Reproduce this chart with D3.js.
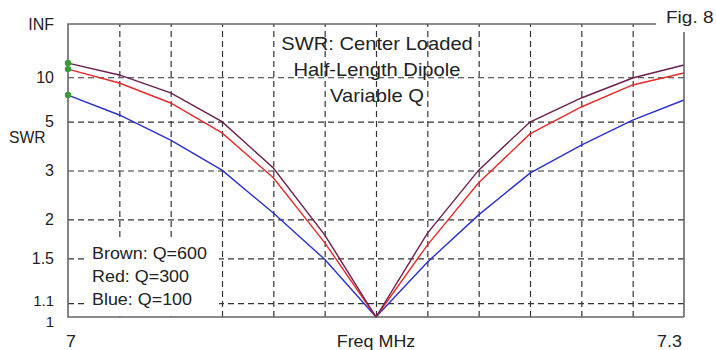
<!DOCTYPE html>
<html>
<head>
<meta charset="utf-8">
<script src="https://cdn.jsdelivr.net/npm/d3@7"></script>
<style>
  html, body { margin: 0; padding: 0; background: #fff; }
  svg { display: block; }
  text { font-family: "Liberation Sans", Arial, sans-serif; fill: #222; }
</style>
</head>
<body>
<svg id="chart" width="716" height="350"></svg>
<script>
// ---- data ----
const freqs     = [7.000, 7.025, 7.050, 7.075, 7.100, 7.125, 7.150, 7.175, 7.200, 7.225, 7.250, 7.275, 7.300];
const swrBrown  = [14.0, 10.5, 7.5, 5.0, 3.07, 1.78, 1.0, 1.80, 3.01, 4.98, 6.92, 9.85, 13.3];
const swrRed    = [12.0, 8.93, 6.42, 4.38, 2.81, 1.68, 1.0, 1.65, 2.69, 4.33, 6.06, 8.61, 10.96];
const swrBlue   = [7.25, 5.44, 4.05, 3.01, 2.10, 1.49, 1.0, 1.46, 2.07, 2.93, 3.84, 5.10, 6.71];
const seriesNames  = ["Brown: Q=600", "Red: Q=300", "Blue: Q=100"];
const yTickSWR     = [1, 1.1, 1.5, 2, 3, 5, 10, Infinity];
const yTickLabels  = ["1", "1.1", "1.5", "2", "3", "5", "10", "INF"];
const xTickLabels  = ["7", "7.3"];
const xTitle       = "Freq MHz";
const yTitle       = "SWR";
const titleLines   = ["SWR: Center Loaded", "Half-Length Dipole", "Variable Q"];
const figLabel     = "Fig. 8";

// ---- layout ----
const L = 68, R = 684, T = 24, B = 317;
const svg = d3.select("#chart");
const x = d3.scaleLinear().domain([7.0, 7.3]).range([L, R]);
const rho = s => (s === Infinity ? 1 : (s - 1) / (s + 1));
const yR = d3.scaleLinear().domain([0, 1]).range([B, T]);
const y = s => yR(rho(s));
const SX = 1.12;

// grid
const gridColor = "#333";
const vGrid = d3.range(1, 12).map(i => 7 + i * 0.025);
svg.append("g").attr("transform", `translate(0,${B})`)
  .call(d3.axisBottom(x).tickValues(vGrid).tickSize(-(B - T)).tickFormat(""))
  .call(g => g.select(".domain").remove())
  .call(g => g.selectAll("line").attr("stroke", gridColor).attr("stroke-width", 1.2).attr("stroke-dasharray", "6,4"));

const hGridVals = yTickSWR.filter(s => s > 1 && s !== Infinity).map(rho);
svg.append("g").attr("transform", `translate(${L},0)`)
  .call(d3.axisLeft(yR).tickValues(hGridVals).tickSize(-(R - L)).tickFormat(""))
  .call(g => g.select(".domain").remove())
  .call(g => g.selectAll("line").attr("stroke", gridColor).attr("stroke-width", 1.2).attr("stroke-dasharray", "6,4"));

// legend backdrop (covers grid)
svg.append("rect").attr("x", 85).attr("y", 238).attr("width", 134).attr("height", 78).attr("fill", "#fff");

// y axis labels
const yAxis = svg.append("g").attr("transform", `translate(${L},0)`)
  .call(d3.axisLeft(yR).tickValues(yTickSWR.map(rho)).tickSize(0).tickPadding(14)
    .tickFormat((d, i) => yTickLabels[i]));
yAxis.select(".domain").remove();
yAxis.selectAll("text").attr("font-size", 16).attr("fill", "#222")
  .style("font-family", "'Liberation Sans', Arial, sans-serif");
// the two bottom labels sit very close: nudge them apart slightly, smaller size
yAxis.selectAll(".tick text").filter((d, i) => i === 0).attr("font-size", 15).attr("dy", "0.62em");
yAxis.selectAll(".tick text").filter((d, i) => i === 1).attr("font-size", 15).attr("dy", "0.15em");

// helper for stretched text
function label(str, px, py, size, anchor, sx) {
  svg.append("text")
    .attr("transform", `translate(${px},${py}) scale(${sx},1)`)
    .attr("text-anchor", anchor).attr("font-size", size).text(str);
}

// axis titles & x labels
label(yTitle, 9, 143, 16, "start", 0.98);
label(xTickLabels[0], x(7.0) - 2, 347, 16, "start", SX);
label(xTickLabels[1], x(7.3) - 2, 347, 16, "end", SX);
label(xTitle, x(7.15), 347, 16, "middle", SX);

// title
titleLines.forEach((t, i) => label(t, 377, 50 + i * 25.8, 18, "middle", SX));

// legend
seriesNames.forEach((t, i) => label(t, 92, 259 + i * 23, 16, "start", SX));

// series
const colors = ["#6a1f4e", "#e52a2a", "#2a30cc"];
const allSeries = [swrBrown, swrRed, swrBlue];
const line = d3.line().x((d, i) => x(freqs[i])).y(d => y(d));
[swrBlue, swrRed, swrBrown].forEach(s => {
  const c = colors[allSeries.indexOf(s)];
  svg.append("path").datum(s).attr("d", line)
    .attr("fill", "none").attr("stroke", c).attr("stroke-width", 1.4);
});

// frame
const frame = svg.append("g").attr("stroke", "#666").attr("stroke-width", 1.6).attr("fill", "none");
frame.append("path").attr("d", `M${R},${B} L${L},${B} L${L},${T} L${R},${T} L${R},${B}`);

// Fig label with white backdrop
svg.append("rect").attr("x", 656).attr("y", 0).attr("width", 60).attr("height", 32).attr("fill", "#fff");
label(figLabel, 666, 23, 17, "start", SX);

// green end markers
svg.append("g").selectAll("circle").data(allSeries).join("circle")
  .attr("cx", x(freqs[0])).attr("cy", d => y(d[0]))
  .attr("r", 3.2).attr("fill", "#3b9a3b");
</script>
</body>
</html>
